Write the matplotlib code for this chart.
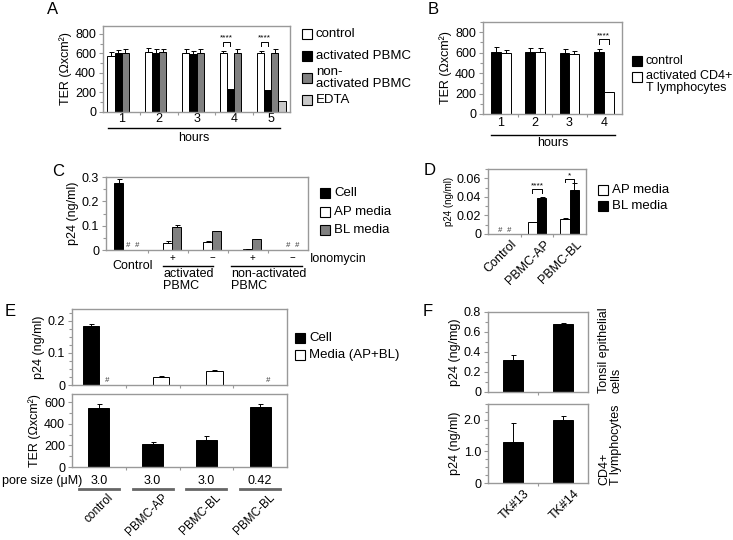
import numpy as np
import matplotlib
matplotlib.use('Agg')
import matplotlib.pyplot as plt
import matplotlib.transforms as mtransforms
from matplotlib.patches import Rectangle
from matplotlib.lines import Line2D
from matplotlib.ticker import MultipleLocator, FixedLocator

plt.rcParams['font.family'] = ['Liberation Sans', 'DejaVu Sans']
plt.rcParams['font.size'] = 9

# ---- data ----
# A: TER over hours
hours_a = ['1', '2', '3', '4', '5']
a_control = [570, 610, 600, 603, 605]
a_control_err = [40, 40, 40, 25, 20]
a_act = [603, 605, 598, 233, 222]
a_act_err = [35, 40, 30, 0, 0]
a_nonact = [608, 615, 607, 607, 607]
a_nonact_err = [35, 30, 35, 40, 40]
a_edta = [None, None, None, None, 115]

# B: TER, CD4+ T cells
hours_b = ['1', '2', '3', '4']
b_control = [608, 608, 592, 602]
b_control_err = [48, 40, 42, 38]
b_act = [598, 608, 589, 215]
b_act_err = [26, 40, 25, 4]

# C: p24 transcytosis
c_cell = [0.275, None, None, None, None]
c_cell_err = [0.015, 0, 0, 0, 0]
c_ap = ['#', 0.029, 0.033, 0.004, '#']
c_ap_err = [0, 0.008, 0.002, 0.001, 0]
c_bl = ['#', 0.093, 0.077, 0.045, '#']
c_bl_err = [0, 0.008, 0.002, 0.001, 0]
c_iono = ['+', '\u2212', '+', '\u2212']

# D
d_groups = ['Control', 'PBMC-AP', 'PBMC-BL']
d_ap = ['#', 0.0125, 0.0165]
d_ap_err = [0, 0.0004, 0.0004]
d_bl = ['#', 0.039, 0.047]
d_bl_err = [0, 0.001, 0.008]

# E
e_groups = ['control', 'PBMC-AP', 'PBMC-BL', 'PBMC-BL']
e_pore = ['3.0', '3.0', '3.0', '0.42']
e_cell = [0.185, None, None, None]
e_cell_err = [0.006, 0, 0, 0]
e_media = ['#', 0.025, 0.043, '#']
e_media_err = [0, 0.002, 0.003, 0]
e_ter = [545, 210, 248, 554]
e_ter_err = [37, 22, 37, 28]

# F
f_donors = ['TK#13', 'TK#14']
f_tonsil = [0.324, 0.677]
f_tonsil_err = [0.05, 0.017]
f_cd4 = [1.29, 1.98]
f_cd4_err = [0.6, 0.15]

W, H = 733, 540
fig = plt.figure(figsize=(W / 100, H / 100), dpi=100)


def fx(x):
    return x / W


def fy(y):
    return 1 - y / H


def box(l, t, r, b):
    ax = fig.add_axes([l / W, 1 - b / H, (r - l) / W, (b - t) / H])
    for s in ax.spines.values():
        s.set_color('#999999')
        s.set_linewidth(1)
    ax.tick_params(which='both', color='#999999', labelcolor='k', width=0.8)
    ax.tick_params(which='major', length=3, pad=2)
    ax.tick_params(which='minor', length=2)
    return ax


def blend(ax):
    return mtransforms.blended_transform_factory(ax.transData, fig.transFigure)


def series(ax, xs, vals, errs, width, color, hash_y):
    bx, bv, be = [], [], []
    for x, v, e in zip(xs, vals, errs):
        if v is None:
            continue
        if v == '#':
            ax.text(x, hash_y, '#', ha='center', va='bottom', fontsize=5.5,
                    style='italic', color='#333333')
            continue
        bx.append(x)
        bv.append(v)
        be.append(e)
    ax.bar(bx, bv, width, color=color, edgecolor='k', linewidth=0.7, zorder=2)
    bx, bv, be = np.array(bx), np.array(bv), np.array(be)
    m = be > 0
    if m.any():
        ax.errorbar(bx[m], bv[m], yerr=[np.zeros(m.sum()), be[m]], fmt='none',
                    ecolor='k', elinewidth=0.7, capsize=1.8, capthick=0.7, zorder=3)


def key(x, y, color, label, size=9.5, va='center'):
    fig.patches.append(Rectangle((fx(x), fy(y + 5)), 10 / W, 10 / H,
                                 transform=fig.transFigure, facecolor=color,
                                 edgecolor='k', linewidth=0.8))
    if va == 'top':
        fig.text(fx(x + 14), fy(y - 7), label, va='top', fontsize=size, linespacing=0.95)
    else:
        fig.text(fx(x + 14), fy(y), label, va='center', fontsize=size, linespacing=0.95)


def hline(x0, x1, y, color='k', lw=1):
    fig.add_artist(Line2D([fx(x0), fx(x1)], [fy(y), fy(y)], color=color, lw=lw))


def bracket(ax, x0, x1, y, leg, txt):
    ax.plot([x0, x0, x1, x1], [y - leg, y, y, y - leg], color='k', lw=0.7)
    ax.text((x0 + x1) / 2, y, txt, ha='center', va='bottom', fontsize=6)


WHITE, BLACK, GRAY, LGRAY = 'white', 'black', '#808080', '#c8c8c8'

# ---- A ----
axA = box(103, 26, 290, 112)
xa = np.arange(len(hours_a))
w = 0.19
series(axA, xa - 1.5 * w, a_control, a_control_err, w, WHITE, 0)
series(axA, xa - 0.5 * w, a_act, a_act_err, w, BLACK, 0)
series(axA, xa + 0.5 * w, a_nonact, a_nonact_err, w, GRAY, 0)
series(axA, xa + 1.5 * w, a_edta, [0] * 5, w, LGRAY, 0)
axA.set_xlim(-0.5, 4.5)
axA.set_ylim(0, 880)
axA.yaxis.set_major_locator(MultipleLocator(200))
axA.yaxis.set_minor_locator(MultipleLocator(100))
axA.set_xticks(xa, hours_a)
axA.xaxis.set_minor_locator(FixedLocator(xa[:-1] + 0.5))
axA.tick_params(axis='x', which='major', length=0, pad=1)
axA.set_ylabel('TER (\u03a9xcm\u00b2)', labelpad=2)
for i in (3, 4):
    bracket(axA, i - 1.5 * w, i - 0.5 * w, 718, 45, '****')
hline(108, 280, 128)
fig.text(fx(194), fy(138), 'hours', ha='center', va='center')
key(302, 34, WHITE, 'control')
key(302, 56, BLACK, 'activated PBMC')
key(302, 78, GRAY, 'non-\nactivated PBMC')
key(302, 100, LGRAY, 'EDTA')

# ---- B ----
axB = box(483, 22, 622, 114)
xb = np.arange(len(hours_b))
wb = 0.29
series(axB, xb - wb / 2, b_control, b_control_err, wb, BLACK, 0)
series(axB, xb + wb / 2, b_act, b_act_err, wb, WHITE, 0)
axB.set_xlim(-0.52, 3.53)
axB.set_ylim(0, 900)
axB.yaxis.set_major_locator(MultipleLocator(200))
axB.yaxis.set_minor_locator(MultipleLocator(100))
axB.set_xticks(xb, hours_b)
axB.xaxis.set_minor_locator(FixedLocator(xb[:-1] + 0.5))
axB.tick_params(axis='x', which='major', length=0, pad=2)
axB.set_ylabel('TER (\u03a9xcm\u00b2)', labelpad=2)
bracket(axB, 3 - wb / 2, 3 + wb / 2, 732, 50, '****')
hline(491, 615, 135)
fig.text(fx(553), fy(143), 'hours', ha='center', va='center')
key(632, 61, BLACK, 'control', size=9)
key(632, 77, WHITE, 'activated CD4+\nT lymphocytes', size=9, va='top')

# ---- C ----
axC = box(106, 177, 308, 250)
xc = np.arange(len(c_cell))
wc = 0.225
series(axC, xc - wc, c_cell, c_cell_err, wc, BLACK, 0.004)
series(axC, xc, c_ap, c_ap_err, wc, WHITE, 0.004)
series(axC, xc + wc, c_bl, c_bl_err, wc, GRAY, 0.004)
axC.set_xlim(-0.54, 4.51)
axC.set_ylim(0, 0.3)
axC.set_yticks([0, 0.1, 0.2, 0.3], ['0', '0.1', '0.2', '0.3'])
axC.yaxis.set_minor_locator(MultipleLocator(0.05))
axC.set_xticks([])
axC.xaxis.set_minor_locator(FixedLocator(xc[:-1] + 0.5))
axC.set_ylabel('p24 (ng/ml)', labelpad=2)
tc = blend(axC)
for k, s in enumerate(c_iono):
    axC.text(xc[k + 1] + wc / 2, fy(258), s, transform=tc, ha='center', va='center', fontsize=7)
fig.text(fx(310), fy(259), 'Ionomycin', va='center')
fig.text(fx(112), fy(266), 'Control', va='center')
hline(163, 213, 266)
hline(231, 302, 266)
fig.text(fx(163), fy(268), 'activated\nPBMC', va='top', linespacing=1.0)
fig.text(fx(231), fy(268), 'non-activated\nPBMC', va='top', linespacing=1.0)
key(320, 193, BLACK, 'Cell')
key(320, 212, WHITE, 'AP media')
key(320, 230, GRAY, 'BL media')

# ---- D ----
axD = box(488, 169, 586, 234)
xd = np.arange(len(d_groups))
wd = 0.29
series(axD, xd - wd / 2, d_ap, d_ap_err, wd, WHITE, 0.0005)
series(axD, xd + wd / 2, d_bl, d_bl_err, wd, BLACK, 0.0005)
axD.set_xlim(-0.5, 2.5)
axD.set_ylim(0, 0.07)
axD.set_yticks([0, 0.02, 0.04, 0.06], ['0', '0.02', '0.04', '0.06'])
axD.yaxis.set_minor_locator(MultipleLocator(0.01))
axD.set_xticks(xd + 0.2, d_groups, rotation=45, ha='right', rotation_mode='anchor')
axD.xaxis.set_minor_locator(FixedLocator(xd[:-1] + 0.5))
axD.tick_params(axis='x', which='major', length=0, pad=3)
axD.set_ylabel('p24 (ng/ml)', fontsize=7, labelpad=2)
bracket(axD, 1 - wd / 2, 1 + wd / 2, 0.048, 0.0035, '****')
bracket(axD, 2 - wd / 2, 2 + wd / 2, 0.0593, 0.003, '*')
key(598, 190, WHITE, 'AP media')
key(598, 206, BLACK, 'BL media')

# ---- E ----
axE1 = box(72, 309, 287, 385)
xe = np.arange(len(e_groups))
we = 0.3
series(axE1, xe - we / 2, e_cell, e_cell_err, we, BLACK, 0.003)
series(axE1, xe + we / 2, e_media, e_media_err, we, WHITE, 0.003)
axE1.set_xlim(-0.5, 3.5)
axE1.set_ylim(0, 0.237)
axE1.set_yticks([0, 0.1, 0.2], ['0', '0.1', '0.2'])
axE1.yaxis.set_minor_locator(MultipleLocator(0.025))
axE1.set_xticks([])
axE1.xaxis.set_minor_locator(FixedLocator(xe[:-1] + 0.5))
axE1.set_ylabel('p24 (ng/ml)', labelpad=2)
key(295, 338, BLACK, 'Cell')
key(295, 355, WHITE, 'Media (AP+BL)')

axE2 = box(72, 394, 287, 467)
series(axE2, xe, e_ter, e_ter_err, 0.39, BLACK, 0)
axE2.set_xlim(-0.5, 3.5)
axE2.set_ylim(0, 677)
axE2.yaxis.set_major_locator(MultipleLocator(200))
axE2.yaxis.set_minor_locator(MultipleLocator(100))
axE2.set_xticks([])
axE2.xaxis.set_minor_locator(FixedLocator(xe[:-1] + 0.5))
axE2.set_ylabel('TER (\u03a9xcm\u00b2)', labelpad=2)
te = blend(axE2)
fig.text(fx(2), fy(481), 'pore size (\u03bcM)', va='center')
for k in range(len(e_groups)):
    axE2.text(xe[k], fy(481), e_pore[k], transform=te, ha='center', va='center')
    axE2.plot([xe[k] - 0.37, xe[k] + 0.37], [fy(489)] * 2, transform=te,
              color='#666666', lw=2, clip_on=False)
    axE2.text(xe[k] + 0.16, fy(492), e_groups[k], transform=te, rotation=45,
              ha='right', va='top', rotation_mode='anchor', fontsize=8.5)

# ---- F ----
axF1 = box(488, 312, 588, 392)
xf = np.arange(len(f_donors))
series(axF1, xf, f_tonsil, f_tonsil_err, 0.4, BLACK, 0)
axF1.set_xlim(-0.5, 1.5)
axF1.set_ylim(0, 0.8)
axF1.set_yticks([0, 0.2, 0.4, 0.6, 0.8], ['0', '0.2', '0.4', '0.6', '0.8'])
axF1.yaxis.set_minor_locator(MultipleLocator(0.1))
axF1.set_xticks([])
axF1.xaxis.set_minor_locator(FixedLocator([0.5]))
axF1.set_ylabel('p24 (ng/mg)', labelpad=2)
fig.text(fx(610), fy(393), 'Tonsil epithelial\ncells', rotation=90, ha='center',
         va='bottom', multialignment='left', linespacing=1.0)

axF2 = box(488, 404, 588, 483)
series(axF2, xf, f_cd4, f_cd4_err, 0.4, BLACK, 0)
axF2.set_xlim(-0.5, 1.5)
axF2.set_ylim(0, 2.5)
axF2.set_yticks([0, 1, 2], ['0', '1.0', '2.0'])
axF2.yaxis.set_minor_locator(MultipleLocator(0.25))
axF2.set_xticks(xf + 0.2, f_donors, rotation=45, ha='right', rotation_mode='anchor')
axF2.xaxis.set_minor_locator(FixedLocator([0.5]))
axF2.tick_params(axis='x', which='major', length=0, pad=3)
axF2.set_ylabel('p24 (ng/ml)', labelpad=2)
fig.text(fx(610), fy(485), 'CD4+\nT lymphocytes', rotation=90, ha='center',
         va='bottom', multialignment='left', linespacing=1.0)

# panel letters
for lab, x, y in [('A', 53, 10), ('B', 433, 10), ('C', 58, 172),
                  ('D', 430, 170), ('E', 10, 311), ('F', 428, 312)]:
    fig.text(fx(x), fy(y), lab, fontsize=12, ha='center', va='center')

fig.savefig('out.png', dpi=100)
